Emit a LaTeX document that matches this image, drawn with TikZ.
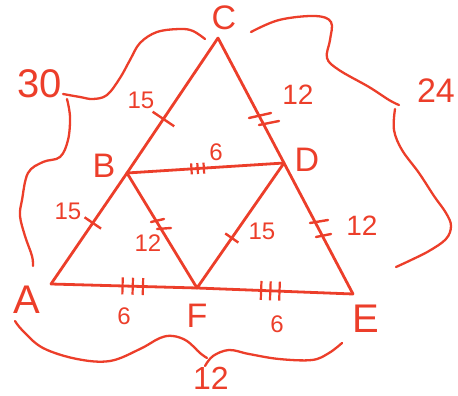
\documentclass[tikz,border=0pt]{standalone}
\usepackage{fontspec}
\setmainfont{Liberation Sans}
\definecolor{hand}{RGB}{236,62,42}
\newcommand\hwfs[1]{\fontsize{#1}{#1}\selectfont}
\newcommand\hwone[2]{\rule[-#2]{2.4pt}{#1}}
\newcommand\hwtri[3]{\rule[-#2]{2.2pt}{#1}\hspace{#3}\rule[-#2]{2.2pt}{#1}\hspace{#3}\rule[-#2]{2.2pt}{#1}}
\begin{document}
\begin{tikzpicture}[x=1pt,y=-1pt,
  edge/.style={draw=hand, line width=2.8pt, line join=round, line cap=round},
  brace/.style={draw=hand, line width=2.3pt, line cap=round, line join=round},
  tickline/.style={draw=hand, line width=2.4pt, line cap=round},
  tick/.style={sloped, inner sep=0pt, text=hand},
  lbl/.style={text=hand, inner sep=0pt},
  vtx/.style={lbl, font=\hwfs{34}},
  num/.style={lbl, font=\hwfs{24}}]
\useasboundingbox (0,0) rectangle (458,396);
% vertices
\coordinate (A) at (51,284);
\coordinate (B) at (127,173);
\coordinate (C) at (218,38);
\coordinate (D) at (284,163);
\coordinate (E) at (353,294);
\coordinate (F) at (197,288);
% edges with tick marks
\draw[edge] (C) -- node (tCB) [tick, pos=0.6] {\hwone{26pt}{13pt}} (B);
\draw[edge] (B) -- node (tAB) [tick, pos=0.45] {\hwone{20pt}{10pt}} (A);
\draw[edge] (C) -- (D);
\draw[edge] (D) -- (E);
\draw[edge] (B) -- node (tBD) [tick, pos=0.45] {\hwtri{11pt}{5.5pt}{4pt}} (D);
\draw[edge] (B) -- (F);
\draw[edge] (D) -- node (tDF) [tick, pos=0.6] {\hwone{16pt}{8pt}} (F);
\draw[edge] (A) -- node (tAF) [tick, pos=0.56] {\hwtri{17pt}{8.5pt}{8pt}} (F);
\draw[edge] (F) -- node (tFE) [tick, pos=0.47] {\hwtri{19pt}{9.5pt}{7pt}} (E);
% double ticks
\draw[tickline] (249,118) -- (271,113);
\draw[tickline] (259,125) -- (279,121);
\draw[tickline] (310,223) -- (328,220);
\draw[tickline] (316,237) -- (331,234);
\draw[tickline] (151,222) -- (164,219);
\draw[tickline] (157,229) -- (171,228);
% vertex labels
\node (lC) [vtx] at (224,18) {C};
\node (lB) [vtx] at (104,166) {B};
\node (lD) [vtx] at (307,160) {D};
\node (lA) [vtx, font=\hwfs{40}] at (27,300) {A};
\node (lF) [vtx] at (197,316) {F};
\node (lE) [vtx, font=\hwfs{40}] at (366,319) {E};
% numbers
\node (n30) [num, font=\hwfs{40}] at (40,84) {30};
\node (n24) [num, font=\hwfs{34}] at (436,91) {24};
\node (n12b) [num, font=\hwfs{32}] at (211,378) {12};
\node (n15a) [num] at (141,100) {15};
\node (n12a) [num, font=\hwfs{28}] at (298,95) {12};
\node (n6a) [num] at (216,152) {6};
\node (n15b) [num] at (68,211) {15};
\node (n12c) [num] at (148,243) {12};
\node (n15c) [num] at (262,231) {15};
\node (n12d) [num, font=\hwfs{28}] at (362,226) {12};
\node (n6b) [num] at (124,316) {6};
\node (n6c) [num] at (277,324) {6};
% braces
\draw[brace] plot[smooth, tension=0.6] coordinates {(205,39) (193,31) (180,29) (157,32) (140,43) (130,60) (120,78) (107,95) (93,99) (80,97) (63,94)};
\draw[brace] plot[smooth, tension=0.6] coordinates {(67,99) (70,117) (68,140) (60,157) (43,162) (28,173) (22,200) (20,216) (25,236) (32,256) (33,266)};
\draw[brace] plot[smooth, tension=0.6] coordinates {(251,32) (279,20) (315,16) (331,22) (330,40) (327,58) (339,70) (369,87) (389,100) (399,105)};
\draw[brace] plot[smooth, tension=0.6] coordinates {(395,109) (394,130) (402,150) (419,173) (434,196) (446,213) (451,226) (446,239) (429,251) (409,261) (396,267)};
\draw[brace] plot[smooth, tension=0.6] coordinates {(15,321) (23,331) (43,348) (77,359) (110,361) (140,349) (160,338) (173,336) (187,341) (200,353) (207,358)};
\draw[brace] plot[smooth, tension=0.6] coordinates {(205,366) (213,356) (229,350) (249,354) (279,359) (312,360) (329,353) (342,343)};
\end{tikzpicture}
\end{document}
